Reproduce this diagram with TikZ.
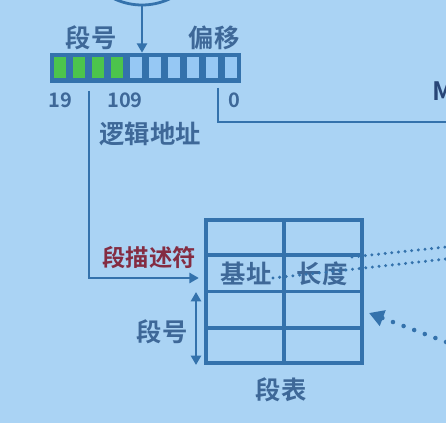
\documentclass[tikz,border=0pt]{standalone}
\usepackage{fontspec}
\setmainfont{Noto Sans CJK SC}[BoldFont={Noto Sans CJK SC Bold}]
\usetikzlibrary{arrows.meta,calc}

\definecolor{bgblue}{RGB}{170,211,244}
\definecolor{lineblue}{RGB}{52,114,172}
\definecolor{txtblue}{RGB}{62,104,152}
\definecolor{navy}{RGB}{40,70,120}
\definecolor{cellgreen}{RGB}{76,196,76}
\definecolor{celllight}{RGB}{150,200,244}
\definecolor{descred}{RGB}{132,44,66}

\tikzset{
  lbl/.style={text=txtblue, font=\bfseries\fontsize{19}{20}\selectfont, inner sep=0pt},
  num/.style={text=txtblue, font=\bfseries\fontsize{15}{16}\selectfont, inner sep=0pt},
  wire/.style={draw=lineblue, line width=2.1pt},
  grid/.style={draw=lineblue, line width=2.8pt},
  dots/.style={draw=lineblue, line width=2.5pt, line cap=round, dash pattern=on 0pt off 5pt},
  bigdots/.style={draw=lineblue, line width=3.4pt, line cap=round, dash pattern=on 0pt off 8.5pt},
  tip/.style={-{Triangle[length=7pt,width=7.5pt]}},
}

\begin{document}
\begin{tikzpicture}[x=0.75pt,y=-0.75pt]
   \useasboundingbox (0,0) rectangle (446,423);
   \fill[bgblue] (0,0) rectangle (446,423);

   % logical address
   \node[circle, wire, minimum size=97.5pt] (src) at (142,-60) {};
   \node[draw=lineblue, fill=lineblue, minimum width=142.5pt, minimum height=21.75pt, inner sep=0pt] (reg) at (145.7,67.5) {};
   \foreach \i in {0,...,9}{
      \ifnum\i<4 \def\cellcol{cellgreen}\else \def\cellcol{celllight}\fi
      \fill[\cellcol] ($(reg.north west)+(\i*19+3.5,4)$) rectangle ($(reg.north west)+(\i*19+15.5,25)$);
   }
   \draw[wire, tip] (src.south) -- (src.south |- reg.north);

   \node[lbl] (segno) at (91,38) {段号};
   \node[lbl] (offs) at (214,38) {偏移};
   \node[num] (n19) at (60,100) {19};
   \node[num] (n109) at (125,100) {109};
   \node[num] (n0) at (234,100) {0};
   \node[num, text=navy, font=\bfseries\fontsize{19}{20}\selectfont, anchor=west] (mem) at (432,91) {M};
   \node[lbl] (laddr) at (150,134) {逻辑地址};

   \coordinate (lft) at (89,91);
   \coordinate (rgt) at (218,88);
   \coordinate (rgtend) at (446,122);
   \draw[wire] (rgt) |- (rgtend);

   % segment table
   \node[grid, minimum width=117pt, minimum height=107.25pt, inner sep=0pt] (segtab) at (284,291.5) {};
   \draw[grid] (segtab.north) -- (segtab.south);
   \foreach \f in {0.25,0.5,0.75}
      \draw[grid] ($(segtab.north west)!\f!(segtab.south west)$) -- ($(segtab.north east)!\f!(segtab.south east)$);

   \node[lbl, text=descred, font=\bfseries\fontsize{17.5}{18}\selectfont] (desc) at (149,258) {段描述符};
   \draw[wire, tip, shorten >=4pt] (lft) |- ($(segtab.west)+(0,-13.5)$);

   \node[lbl] (base) at (246,274) {基址};
   \node[lbl] (len) at (322,274) {长度};
   \node[lbl] (segno2) at (162,332) {段号};
   \node[lbl] (tabname) at (281,390) {段表};

   \coordinate (rowtop) at (196,292);
   \coordinate (rowbot) at (196,365);
   \draw[wire, {Triangle[length=7pt,width=7.5pt]}-{Triangle[length=7pt,width=7.5pt]}] (rowtop) -- (rowbot);

   % dotted links
   \coordinate (d1s) at (352,257);
   \coordinate (d1e) at (446,247);
   \coordinate (d2s) at (273,278);
   \coordinate (d2e) at (446,259);
   \draw[dots] (d1s) -- (d1e);
   \draw[dots] (d2s) -- (d2e);
   \coordinate (d3s) at (446,342);
   \coordinate (d3e) at (369,313);
   \draw[bigdots, -{Triangle[length=11pt,width=12pt]}] (d3s) -- (d3e);
\end{tikzpicture}
\end{document}
